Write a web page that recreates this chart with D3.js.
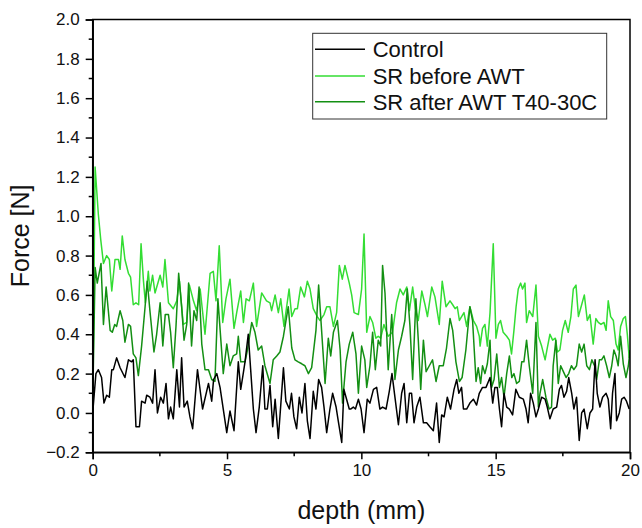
<!DOCTYPE html>
<html>
<head>
<meta charset="utf-8">
<script src="https://cdn.jsdelivr.net/npm/d3@7"></script>
<style>
  html, body { margin: 0; padding: 0; background: #fff; }
  svg { display: block; font-family: "Liberation Sans", Arial, sans-serif; }
</style>
</head>
<body>
<svg id="chart" width="642" height="528"></svg>
<script>
// ---- Data (depth in mm, force in N) ----
const seriesNames = ["Control", "SR before AWT", "SR after AWT T40-30C"];
const xTicks = [0, 5, 10, 15, 20];
const yTicks = [-0.2, 0.0, 0.2, 0.4, 0.6, 0.8, 1.0, 1.2, 1.4, 1.6, 1.8, 2.0];

const controlDepth = [0,0.12,0.21,0.33,0.42,0.52,0.62,0.71,0.77,0.89,1.02,1.2,1.33,1.45,1.51,1.61,1.74,1.82,1.95,2.01,2.13,2.23,2.32,2.41,2.53,2.63,2.73,2.82,2.9,3.0,3.13,3.23,3.31,3.4,3.52,3.62,3.72,3.9,4.09,4.31,4.43,4.5,4.62,4.74,4.86,4.99,5.11,5.26,5.36,5.42,5.51,5.58,5.67,5.79,5.88,5.98,6.08,6.2,6.33,6.41,6.5,6.6,6.7,6.79,6.91,7.0,7.1,7.19,7.32,7.4,7.49,7.59,7.69,7.79,7.9,7.99,8.09,8.21,8.31,8.41,8.52,8.61,8.71,8.83,8.93,9.06,9.14,9.27,9.35,9.45,9.55,9.6,9.7,9.78,9.89,9.99,10.1,10.22,10.32,10.45,10.57,10.69,10.79,10.92,11.04,11.14,11.25,11.38,11.5,11.59,11.69,11.79,11.87,11.96,12.06,12.18,12.31,12.43,12.55,12.68,12.8,12.9,12.99,13.08,13.2,13.32,13.45,13.55,13.63,13.73,13.8,13.92,14.04,14.17,14.29,14.39,14.51,14.64,14.73,14.79,14.89,14.97,15.06,15.14,15.22,15.31,15.41,15.51,15.63,15.75,15.88,16.03,16.13,16.21,16.3,16.4,16.5,16.59,16.71,16.84,16.92,17.02,17.14,17.27,17.37,17.45,17.54,17.64,17.72,17.83,17.91,18.01,18.11,18.2,18.29,18.41,18.51,18.61,18.7,18.78,18.88,18.98,19.11,19.19,19.28,19.35,19.44,19.5,19.6,19.69,19.78,19.87,19.97];
const controlForce = [0,0.2,0.22,0.18,0.05,0.09,0.08,0.22,0.22,0.28,0.23,0.18,0.27,0.26,0.27,-0.07,-0.07,0.06,0.05,0.09,0.08,0.05,0.22,0.0,0.08,0.05,0.15,-0.03,0.03,-0.03,0.22,0.03,0.28,0.03,0.06,-0.02,-0.08,0.22,0.02,0.15,0.06,0.17,0.2,0.13,0.02,-0.1,0.01,-0.09,0.13,0.26,0.12,0.18,0.26,0.4,0.22,0.02,-0.1,0.03,0.24,0.02,0.02,0.14,-0.07,0.07,-0.13,0.04,0.23,0.06,0.02,0.1,-0.02,-0.08,0.08,0.0,0.15,-0.04,-0.13,0.11,0.02,0.17,0.13,0.03,-0.1,0.02,0.1,0.03,-0.04,-0.15,0.12,0.07,0.02,0.02,0.03,0.02,0.07,0.02,-0.1,0.07,0.05,0.12,0.13,0.02,0.03,0.02,0.11,0.2,0.08,-0.06,0.1,0.15,-0.05,0.1,0.1,-0.05,0.03,0.08,-0.05,-0.05,-0.07,-0.09,0.05,-0.15,-0.01,-0.02,0.08,0.02,0.12,0.17,0.1,0.13,0.02,0.02,0.05,0.07,0.04,0.1,0.13,0.13,0.16,0.18,0.05,0.13,0.13,0.02,-0.07,0.1,0.03,0.02,-0.01,0.12,0.08,0.07,0.02,-0.05,0.1,0.05,-0.02,0.02,0.08,0.07,0.03,-0.03,0.02,0.03,0.12,0.14,0.08,0.11,0.18,0.1,0.02,0.08,-0.14,0.0,0.02,-0.08,0.0,0.02,0.27,0.1,0.03,0.08,0.1,0.07,-0.08,0.1,0.2,-0.04,0.0,0.07,0.08,0.06,0.02];

const beforeDepth = [0,0.09,0.21,0.3,0.4,0.52,0.62,0.71,0.83,0.96,1.02,1.1,1.2,1.33,1.41,1.51,1.61,1.71,1.8,1.89,1.96,2.07,2.13,2.23,2.32,2.51,2.61,2.69,2.82,3.0,3.13,3.23,3.37,3.5,3.6,3.75,3.87,4.0,4.18,4.37,4.49,4.59,4.71,4.84,4.96,5.11,5.26,5.36,5.51,5.61,5.71,5.83,5.98,6.1,6.29,6.47,6.6,6.66,6.79,6.91,7.0,7.12,7.31,7.41,7.53,7.62,7.74,7.88,7.99,8.09,8.21,8.36,8.46,8.61,8.71,8.83,8.96,9.08,9.18,9.29,9.39,9.55,9.64,9.73,9.89,10.01,10.1,10.2,10.32,10.42,10.54,10.63,10.72,10.84,11.0,11.16,11.31,11.44,11.56,11.69,11.79,11.91,12.01,12.12,12.25,12.37,12.46,12.62,12.74,12.9,13.01,13.15,13.3,13.4,13.49,13.57,13.65,13.82,13.92,14.04,14.17,14.29,14.39,14.42,14.51,14.6,14.69,14.79,14.91,15.01,15.1,15.18,15.28,15.41,15.51,15.59,15.68,15.76,15.84,15.93,16.0,16.09,16.15,16.25,16.38,16.5,16.59,16.71,16.84,16.92,17.02,17.12,17.22,17.3,17.39,17.49,17.59,17.7,17.8,17.89,17.99,18.08,18.2,18.3,18.41,18.51,18.63,18.73,18.82,18.92,19.03,19.11,19.19,19.28,19.38,19.48,19.56,19.65,19.75,19.83,19.9,19.97];
const beforeForce = [0.02,1.25,1.01,0.88,0.76,0.8,0.78,0.62,0.78,0.78,0.73,0.9,0.78,0.71,0.69,0.55,0.56,0.55,0.86,0.67,0.56,0.72,0.62,0.7,0.61,0.7,0.64,0.78,0.56,0.53,0.57,0.67,0.45,0.46,0.65,0.57,0.52,0.63,0.4,0.71,0.72,0.57,0.85,0.46,0.58,0.68,0.43,0.51,0.62,0.46,0.58,0.57,0.66,0.44,0.61,0.57,0.56,0.52,0.6,0.51,0.58,0.44,0.63,0.49,0.53,0.53,0.64,0.59,0.67,0.63,0.53,0.49,0.47,0.5,0.54,0.54,0.44,0.51,0.75,0.68,0.75,0.66,0.6,0.51,0.5,0.63,0.91,0.41,0.49,0.46,0.38,0.39,0.38,0.45,0.39,0.41,0.56,0.63,0.6,0.64,0.52,0.64,0.53,0.47,0.62,0.55,0.49,0.64,0.59,0.45,0.67,0.54,0.57,0.55,0.53,0.54,0.47,0.51,0.44,0.54,0.47,0.44,0.39,0.34,0.43,0.45,0.34,0.51,0.86,0.38,0.45,0.47,0.41,0.39,0.37,0.3,0.42,0.54,0.63,0.66,0.63,0.66,0.46,0.52,0.49,0.65,0.39,0.34,0.27,0.33,0.4,0.37,0.38,0.31,0.32,0.42,0.47,0.41,0.49,0.63,0.65,0.49,0.55,0.6,0.47,0.5,0.35,0.48,0.46,0.45,0.46,0.42,0.57,0.49,0.47,0.35,0.32,0.44,0.48,0.49,0.4,0.28];

const afterDepth = [0,0.09,0.17,0.31,0.4,0.5,0.65,0.73,0.82,0.89,1.02,1.12,1.2,1.33,1.41,1.51,1.61,1.7,1.82,1.95,2.03,2.13,2.28,2.38,2.51,2.61,2.7,2.82,2.9,3.0,3.1,3.2,3.31,3.4,3.5,3.57,3.68,3.77,3.87,3.96,4.06,4.18,4.31,4.43,4.55,4.66,4.86,4.99,5.11,5.23,5.36,5.42,5.51,5.67,5.76,5.92,6.04,6.16,6.29,6.41,6.6,6.72,6.85,6.97,7.1,7.28,7.41,7.53,7.65,7.78,7.9,8.03,8.15,8.31,8.41,8.52,8.65,8.77,8.86,8.96,9.11,9.21,9.3,9.43,9.55,9.68,9.8,9.89,10.01,10.13,10.2,10.32,10.42,10.52,10.63,10.72,10.79,10.88,11.0,11.07,11.13,11.19,11.25,11.38,11.5,11.62,11.71,11.81,11.91,12.03,12.12,12.21,12.31,12.41,12.53,12.65,12.78,12.9,13.05,13.17,13.3,13.4,13.52,13.65,13.75,13.89,14.04,14.14,14.27,14.35,14.44,14.51,14.6,14.69,14.79,14.85,14.94,15.04,15.14,15.22,15.31,15.41,15.51,15.6,15.68,15.78,15.88,15.97,16.05,16.15,16.25,16.38,16.5,16.59,16.65,16.75,16.87,16.99,17.08,17.14,17.24,17.33,17.42,17.52,17.62,17.72,17.82,17.91,18.01,18.11,18.2,18.29,18.39,18.49,18.58,18.68,18.76,18.86,18.94,19.03,19.13,19.23,19.32,19.4,19.48,19.56,19.65,19.75,19.85,19.94,20.0];
const afterForce = [0.05,0.74,0.66,0.76,0.45,0.64,0.42,0.41,0.45,0.44,0.52,0.47,0.36,0.45,0.44,0.3,0.28,0.19,0.34,0.54,0.67,0.52,0.31,0.4,0.56,0.34,0.5,0.5,0.41,0.23,0.44,0.71,0.54,0.37,0.45,0.66,0.34,0.52,0.47,0.64,0.35,0.22,0.22,0.17,0.16,0.58,0.2,0.35,0.24,0.29,0.3,0.39,0.26,0.26,0.32,0.46,0.41,0.32,0.34,0.24,0.15,0.27,0.29,0.31,0.39,0.54,0.33,0.27,0.26,0.25,0.24,0.2,0.23,0.42,0.65,0.42,0.15,0.38,0.29,0.41,0.47,0.32,0.05,0.26,0.35,0.41,0.3,0.1,0.34,0.27,0.13,0.24,0.41,0.22,0.37,0.34,0.75,0.61,0.22,0.37,0.5,0.35,0.17,0.32,0.39,0.47,0.63,0.44,0.17,0.58,0.37,0.12,0.37,0.21,0.24,0.27,0.16,0.24,0.24,0.33,0.48,0.42,0.26,0.16,0.18,0.32,0.54,0.47,0.16,0.23,0.15,0.24,0.2,0.25,0.37,0.13,0.17,0.3,0.13,0.18,0.08,0.2,0.29,0.18,0.2,0.15,0.16,0.26,0.26,0.37,0.24,0.1,0.46,0.03,0.1,0.17,0.08,0.02,0.03,0.24,0.37,0.15,0.24,0.21,0.18,0.2,0.24,0.22,0.24,0.35,0.31,0.35,0.24,0.22,0.27,0.24,0.17,0.27,0.27,0.29,0.24,0.18,0.24,0.32,0.29,0.24,0.39,0.25,0.18,0.24,0.32];

const seriesColors = ["#000000", "#33dd33", "#138f13"];

// ---- Layout ----
const svg = d3.select("#chart");
const M = { left: 92.7, right: 630, top: 19.5, bottom: 452.3 };
const x = d3.scaleLinear().domain([0, 20]).range([M.left, M.right]);
const y = d3.scaleLinear().domain([-0.2, 2.0]).range([M.bottom, M.top]);

// clip
svg.append("defs").append("clipPath").attr("id", "clip")
  .append("rect").attr("x", M.left).attr("y", M.top)
  .attr("width", M.right - M.left).attr("height", M.bottom - M.top);

const series = [
  { name: seriesNames[0], xs: controlDepth, ys: controlForce, color: seriesColors[0] },
  { name: seriesNames[1], xs: beforeDepth, ys: beforeForce, color: seriesColors[1] },
  { name: seriesNames[2], xs: afterDepth, ys: afterForce, color: seriesColors[2] }
];

const line = d3.line().x(d => x(d[0])).y(d => y(d[1]));
const g = svg.append("g").attr("clip-path", "url(#clip)");
// draw order: before (light) , after (dark), control on top
[1, 2, 0].forEach(i => {
  const s = series[i];
  g.append("path")
    .datum(s.xs.map((d, k) => [d, s.ys[k]]))
    .attr("d", line)
    .attr("fill", "none")
    .attr("stroke", s.color)
    .attr("stroke-width", 1.5)
    .attr("stroke-linejoin", "round");
});

// frame
svg.append("rect")
  .attr("x", M.left).attr("y", M.top)
  .attr("width", M.right - M.left).attr("height", M.bottom - M.top)
  .attr("fill", "none").attr("stroke", "#000").attr("stroke-width", 1.5);

// axes
const xAxis = d3.axisBottom(x).tickValues(xTicks).tickFormat(d3.format("d")).tickSize(7).tickPadding(5);
const yAxis = d3.axisLeft(y).tickValues(yTicks).tickFormat(d3.format(".1f")).tickSize(7).tickPadding(6);

const xg = svg.append("g").attr("transform", `translate(0,${M.bottom})`).call(xAxis);
const yg = svg.append("g").attr("transform", `translate(${M.left},0)`).call(yAxis);
[xg, yg].forEach(a => {
  a.select(".domain").attr("stroke", "#000").attr("stroke-width", 1.5);
  a.selectAll(".tick line").attr("stroke", "#000").attr("stroke-width", 1.5);
  a.selectAll(".tick text").attr("fill", "#111").style("font-size", "17px")
    .style("font-family", "'Liberation Sans', Arial, sans-serif");
});

// minor ticks
const xMinor = d3.range(2.5, 20, 5);
svg.append("g").selectAll("line").data(xMinor).join("line")
  .attr("x1", d => x(d)).attr("x2", d => x(d))
  .attr("y1", M.bottom).attr("y2", M.bottom + 4)
  .attr("stroke", "#000").attr("stroke-width", 1.5);
const yMinor = d3.range(-0.1, 2.0, 0.2);
svg.append("g").selectAll("line").data(yMinor).join("line")
  .attr("y1", d => y(d)).attr("y2", d => y(d))
  .attr("x1", M.left).attr("x2", M.left - 4)
  .attr("stroke", "#000").attr("stroke-width", 1.5);

// axis titles
svg.append("text")
  .attr("x", (M.left + M.right) / 2).attr("y", 519)
  .attr("text-anchor", "middle").style("font-size", "25px").attr("fill", "#111")
  .text("depth (mm)");
svg.append("text")
  .attr("transform", `translate(29,${(M.top + M.bottom) / 2}) rotate(-90)`)
  .attr("text-anchor", "middle").style("font-size", "25px").attr("fill", "#111")
  .text("Force [N]");

// legend
const lg = svg.append("g");
lg.append("rect").attr("x", 312.7).attr("y", 33.3).attr("width", 294).attr("height", 85.7)
  .attr("fill", "#fff").attr("stroke", "#333").attr("stroke-width", 1);
const rowY = [49.3, 76, 101.7];
series.forEach((s, i) => {
  lg.append("line").attr("x1", 315).attr("x2", 365).attr("y1", rowY[i]).attr("y2", rowY[i])
    .attr("stroke", s.color).attr("stroke-width", 1.5);
  lg.append("text").attr("x", 372.7).attr("y", rowY[i] + 7.8)
    .style("font-size", "22px").attr("fill", "#111").text(s.name);
});
</script>
</body>
</html>
